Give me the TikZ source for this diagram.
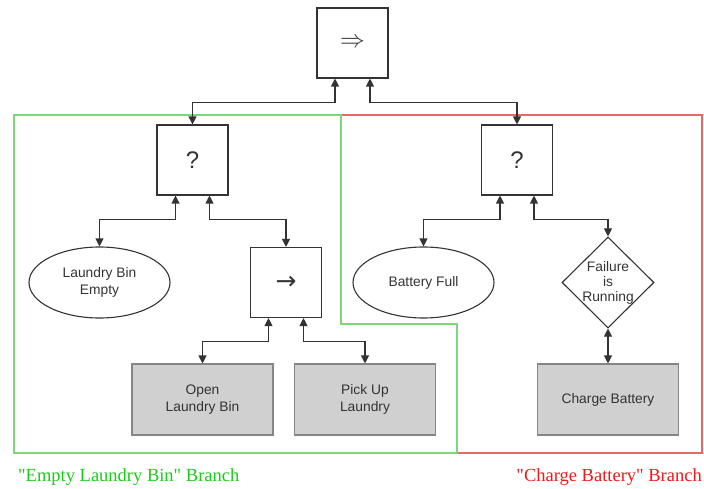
\documentclass[tikz,border=0pt]{standalone}
\usepackage{fontspec}
\setmainfont{Liberation Sans}
\newfontfamily\branchfont{Liberation Serif}
\newfontfamily\arrowfont{DejaVu Sans}
\usetikzlibrary{arrows.meta,shapes.geometric}

\definecolor{ink}{HTML}{333333}
\definecolor{boxgray}{HTML}{D0D0D0}
\definecolor{boxedge}{HTML}{858585}
\definecolor{greenedge}{HTML}{7FD67A}
\definecolor{rededge}{HTML}{E56A66}
\definecolor{greentext}{HTML}{1ACC1A}
\definecolor{redtext}{HTML}{F01818}

\tikzset{
  ctrl/.style={draw=ink, line width=1.1pt, fill=white, minimum width=71pt,
    minimum height=70pt, inner sep=0pt, text=ink,
    font=\fontsize{24}{26}\selectfont},
  cond/.style={draw=ink, line width=1.1pt, ellipse, minimum width=141pt,
    minimum height=71pt, inner sep=0pt, text=ink, align=center,
    font=\fontsize{13.8}{17}\selectfont},
  diam/.style={draw=ink, line width=1.1pt, diamond, minimum width=92pt,
    minimum height=91pt, inner sep=0pt},
  action/.style={draw=boxedge, line width=1.1pt, fill=boxgray, minimum width=141pt,
    minimum height=71pt, inner sep=0pt, text=ink, align=center,
    font=\fontsize{13.8}{17}\selectfont},
  link/.style={draw=ink, line width=1.1pt,
    {Triangle[length=8pt,width=8pt]}-{Triangle[length=8pt,width=8pt]}},
  region/.style={line width=1.3pt, line join=miter},
  branchlabel/.style={inner sep=0pt, font=\branchfont\fontsize{18.5}{20}\selectfont}
}

\begin{document}
\begin{tikzpicture}[x=1pt, y=-1pt]
\useasboundingbox (0,0) rectangle (704,489);

% branch regions
\draw[region, draw=rededge] (341,115) -- (702,115) -- (702,453) -- (457,453)
  -- (457,324) -- (341,324) -- cycle;
\draw[region, draw=greenedge] (14,115) -- (341,115) -- (341,324) -- (457,324)
  -- (457,453) -- (14,453) -- cycle;

% root sequence
\node[ctrl] (root) at (352.5,43) {$\Rightarrow$};

% left fallback
\node[ctrl] (fbL) at (192.5,160) {?};
\node[cond] (binEmpty) at (99.5,282.5) {Laundry Bin\\Empty};
\node[ctrl, font=\arrowfont\fontsize{25}{26}\selectfont] (seqL) at (286,282.5) {→};
\node[action] (openBin) at (202.5,399.5) {Open\\Laundry Bin};
\node[action] (pickUp) at (365,399.5) {Pick Up\\Laundry};

% right fallback
\node[ctrl] (fbR) at (517,160) {?};
\node[cond] (battFull) at (423.5,282.5) {Battery Full};
\node[diam] (failRun) at (608,282.5) {};
\node[text=ink, align=center, inner sep=0pt,
  font=\fontsize{13.8}{15}\selectfont] (failText) at (failRun.center) {Failure\\is\\Running};
\node[action] (charge) at (608,399.5) {Charge Battery};

% connectors
\draw[link] ([xshift=-17.5pt]root.south) -- ++(0,24) -| (fbL.north);
\draw[link] ([xshift=17.5pt]root.south) -- ++(0,24) -| (fbR.north);

\draw[link] ([xshift=-17pt]fbL.south) -- ++(0,24) -| (binEmpty.north);
\draw[link] ([xshift=17pt]fbL.south) -- ++(0,24) -| (seqL.north);

\draw[link] ([xshift=-17.5pt]seqL.south) -- ++(0,23) -| (openBin.north);
\draw[link] ([xshift=17.5pt]seqL.south) -- ++(0,23) -| (pickUp.north);

\draw[link] ([xshift=-17pt]fbR.south) -- ++(0,24) -| (battFull.north);
\draw[link] ([xshift=17pt]fbR.south) -- ++(0,24) -| (failRun.north);

\draw[link] (failRun.south) -- (charge.north);

% branch captions
\node[branchlabel, text=greentext, anchor=west] (capL) at (18,477)
  {"Empty Laundry Bin" Branch};
\node[branchlabel, text=redtext, anchor=east] (capR) at (702,477)
  {"Charge Battery" Branch};
\end{tikzpicture}
\end{document}
